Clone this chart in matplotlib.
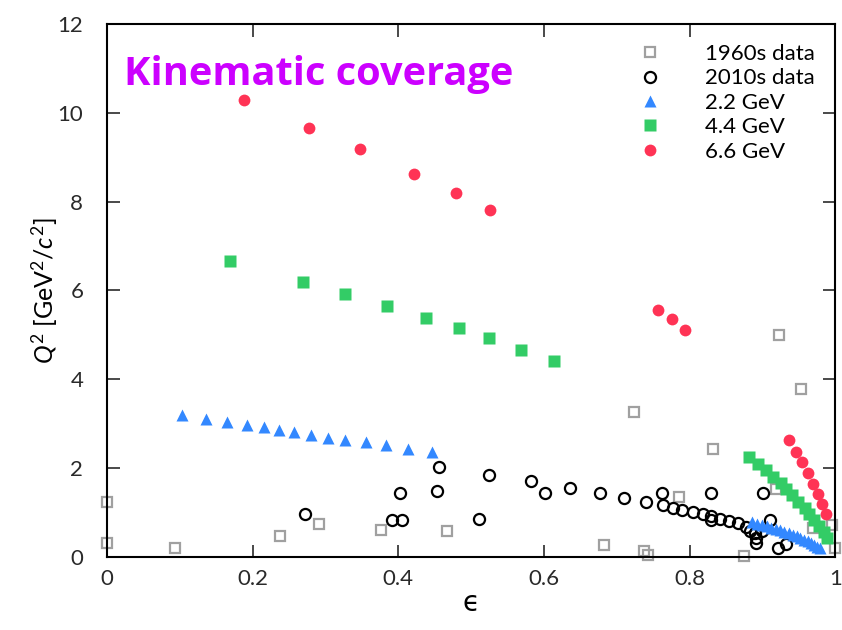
import matplotlib
matplotlib.use("Agg")
import matplotlib.pyplot as plt

plt.rcParams['font.family'] = ['Lato', 'DejaVu Sans']
plt.rcParams['mathtext.fontset'] = 'custom'
plt.rcParams['mathtext.rm'] = 'Lato'
plt.rcParams['mathtext.it'] = 'Lato:italic'

# 1960s data
eps_1960 = [0.0, 0.0, 0.093, 0.237, 0.291, 0.376, 0.467, 0.682, 0.738, 0.743,
            0.723, 0.785, 0.832, 0.875, 0.919, 0.923, 0.953, 0.969, 0.996, 0.999]
q2_1960 = [1.24, 0.31, 0.20, 0.47, 0.75, 0.61, 0.59, 0.26, 0.14, 0.04,
           3.26, 1.36, 2.43, 0.02, 1.53, 4.99, 3.78, 0.65, 0.71, 0.20]

# 2010s data
eps_2010 = [0.272, 0.391, 0.405, 0.402, 0.453, 0.456, 0.511, 0.525, 0.582, 0.601,
            0.636, 0.677, 0.710, 0.740, 0.762, 0.763, 0.777, 0.790, 0.804, 0.818,
            0.830, 0.830, 0.830, 0.842, 0.854, 0.866, 0.878, 0.883, 0.890, 0.899,
            0.891, 0.891, 0.901, 0.911, 0.921, 0.933]
q2_2010 = [0.97, 0.82, 0.82, 1.43, 1.49, 2.02, 0.85, 1.84, 1.70, 1.43,
           1.56, 1.44, 1.33, 1.23, 1.44, 1.16, 1.10, 1.06, 1.01, 0.96,
           0.92, 0.83, 1.45, 0.85, 0.80, 0.76, 0.68, 0.59, 0.53, 0.59,
           0.42, 0.32, 1.45, 0.83, 0.21, 0.29]

# 2.2 GeV
eps_22 = [0.103, 0.136, 0.165, 0.192, 0.216, 0.236, 0.257, 0.280, 0.304, 0.327,
          0.356, 0.383, 0.413, 0.446,
          0.886, 0.893, 0.900, 0.906, 0.912, 0.918, 0.924, 0.930, 0.936, 0.942,
          0.947, 0.952, 0.957, 0.962, 0.967, 0.971, 0.975, 0.979]
q2_22 = [3.19, 3.10, 3.03, 2.97, 2.92, 2.85, 2.81, 2.74, 2.67, 2.63,
         2.58, 2.52, 2.43, 2.36,
         0.78, 0.75, 0.72, 0.69, 0.66, 0.63, 0.60, 0.56, 0.53, 0.50,
         0.46, 0.43, 0.39, 0.35, 0.31, 0.27, 0.23, 0.19]

# 4.4 GeV
eps_44 = [0.169, 0.269, 0.327, 0.385, 0.438, 0.484, 0.525, 0.569, 0.614,
          0.882, 0.894, 0.905, 0.915, 0.925, 0.933, 0.941, 0.949, 0.958, 0.964,
          0.971, 0.978, 0.984, 0.989]
q2_44 = [6.67, 6.20, 5.93, 5.66, 5.39, 5.15, 4.92, 4.67, 4.40,
         2.25, 2.09, 1.96, 1.80, 1.66, 1.53, 1.39, 1.24, 1.10, 0.97,
         0.83, 0.70, 0.56, 0.43]

# 6.6 GeV
eps_66 = [0.188, 0.277, 0.348, 0.422, 0.479, 0.526, 0.757, 0.776, 0.794,
          0.936, 0.946, 0.955, 0.962, 0.970, 0.976, 0.982, 0.987]
q2_66 = [10.29, 9.66, 9.19, 8.63, 8.20, 7.82, 5.57, 5.35, 5.12,
         2.64, 2.37, 2.13, 1.89, 1.64, 1.42, 1.19, 0.96]

fig = plt.figure(figsize=(8.42, 6.3), dpi=100)
ax = fig.add_axes([0.127, 0.116, 0.865, 0.846])

ax.plot(eps_1960, q2_1960, ls='none', marker='s', ms=7, mfc='none', mec='#a0a0a0',
        mew=1.6, label='1960s data', clip_on=False)
ax.plot(eps_2010, q2_2010, ls='none', marker='o', ms=8, mfc='none', mec='black',
        mew=1.6, label='2010s data', clip_on=False)
ax.plot(eps_22, q2_22, ls='none', marker='^', ms=9, color='#3388ff', mec='none',
        label='2.2 GeV', clip_on=False)
ax.plot(eps_44, q2_44, ls='none', marker='s', ms=8, color='#33cc66', mec='none',
        label='4.4 GeV', clip_on=False)
ax.plot(eps_66, q2_66, ls='none', marker='o', ms=8.5, color='#ff3355', mec='none',
        label='6.6 GeV', clip_on=False)

ax.set_xlim(0, 1)
ax.set_ylim(0, 12)
ax.set_xticks([0, 0.2, 0.4, 0.6, 0.8, 1])
ax.set_xticklabels(['0', '0.2', '0.4', '0.6', '0.8', '1'])
ax.set_yticks(range(0, 13, 2))
ax.tick_params(direction='in', length=9, width=1.2, top=True, right=True,
               labelsize=16, colors='#2a2a2a')
ax.tick_params(axis='x', pad=9)
ax.tick_params(axis='y', pad=17)
for s in ax.spines.values():
    s.set_linewidth(1.5)

ax.set_xlabel('ϵ', fontsize=20, labelpad=0, family=['DejaVu Sans'])
ax.set_ylabel(r'$Q^2$ [GeV$^2$/$c^2$]', fontsize=18, labelpad=-2)

ax.text(0.024, 0.885, 'Kinematic coverage', transform=ax.transAxes,
        fontsize=28.6, fontweight='bold', color='#cc00ff', family=['Open Sans', 'DejaVu Sans'])

ax.legend(loc='upper right', bbox_to_anchor=(1.0, 1.0), frameon=False, fontsize=16,
          handletextpad=2.0, labelspacing=0.2, borderaxespad=0.5, handlelength=1.0)

fig.savefig('out.png', dpi=100)
